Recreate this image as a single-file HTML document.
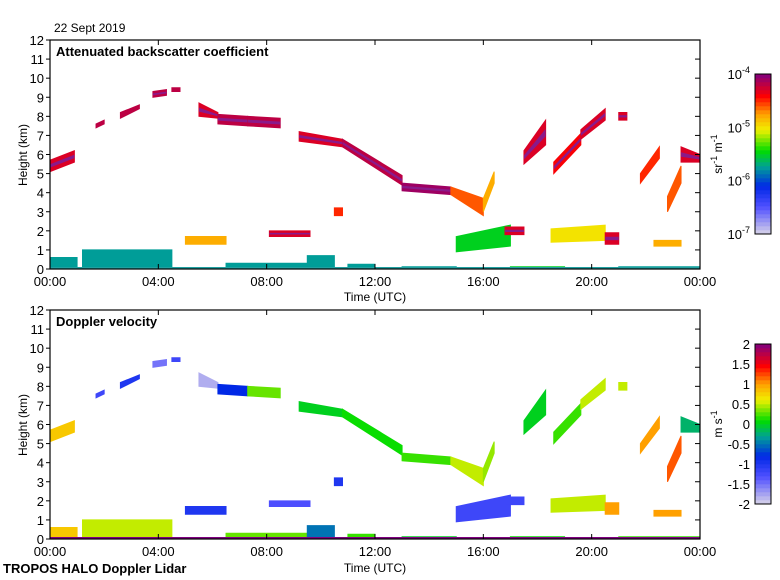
<!DOCTYPE html>
<html><head><meta charset="utf-8">
<style>
body{margin:0;background:#fff;}
svg{display:block;font-family:"Liberation Sans",sans-serif;}
</style></head>
<body>
<svg id="c" width="780" height="580"></svg>
<script>
// data: cloud segments (hours, km)
const segT0=[0.0,1.7,2.6,3.8,4.5,5.5,6.2,7.3,9.2,10.8,13.0,14.8,16.0,17.5,18.6,19.6,21.0,21.8,22.8,23.3,5.0,8.1,10.5,15.0,16.8,18.5,20.5,22.3,0.0,1.2,6.5,9.5,11.0,13.0,17.0,21.0];
const segT1=[0.9,2.0,3.3,4.3,4.8,6.2,7.3,8.5,10.8,13.0,14.8,16.0,16.4,18.3,19.6,20.5,21.3,22.5,23.3,24.0,6.5,9.6,10.8,17.0,17.5,20.5,21.0,23.3,1.0,4.5,9.5,10.5,12.0,15.0,19.0,24.0];
const segBotA=[5.1,7.4,7.9,9.0,9.3,8.0,7.6,7.5,6.7,6.4,4.1,3.9,3.0,5.5,5.0,6.8,7.8,4.5,3.0,5.6,1.3,1.7,2.8,0.9,1.8,1.4,1.3,1.2,0,0,0,0,0,0,0,0];
const segTopA=[5.7,7.6,8.2,9.3,9.5,8.7,8.1,8.0,7.2,6.8,4.5,4.3,3.7,6.2,5.6,7.3,8.2,5.0,3.8,6.4,1.7,2.0,3.2,1.7,2.2,2.1,1.9,1.5,0.6,1.0,0.3,0.7,0.25,0.12,0.12,0.12];
const segBotB=[5.6,7.6,8.4,9.1,9.3,7.9,7.5,7.4,6.4,4.4,3.9,2.8,4.5,6.5,6.5,7.8,7.8,5.8,4.5,5.6,1.3,1.7,2.8,1.2,1.8,1.5,1.3,1.2,0,0,0,0,0,0,0,0];
const segTopB=[6.2,7.8,8.6,9.4,9.5,8.2,8.0,7.9,6.8,4.9,4.3,3.7,5.1,7.8,7.1,8.4,8.2,6.4,5.4,6.0,1.7,2.0,3.2,2.3,2.2,2.3,1.9,1.5,0.6,1.0,0.3,0.7,0.25,0.12,0.12,0.12];
const segBs=[-4.3,-4.2,-4.2,-4.2,-4.2,-4.3,-4.2,-4.2,-4.3,-4.2,-4.1,-4.6,-4.8,-4.3,-4.4,-4.3,-4.3,-4.5,-4.6,-4.3,-4.8,-4.3,-4.5,-5.5,-4.3,-5.0,-4.3,-4.8,-5.75,-5.75,-5.75,-5.75,-5.75,-5.75,-5.5,-5.75];
const segVel=[0.8,-1.2,-1.0,-1.5,-1.2,-1.8,-0.8,0.3,0.0,0.1,0.2,0.5,0.4,0.0,0.2,0.5,0.5,1.0,1.2,-0.2,-1.0,-1.3,-1.0,-1.2,-1.2,0.5,1.0,1.0,0.8,0.5,0.3,-0.5,0.2,0.0,0.1,0.2];
const xTickLabels=["00:00","04:00","08:00","12:00","16:00","20:00","00:00"];
const yTickLabels=["0","1","2","3","4","5","6","7","8","9","10","11","12"];
const bsTicks=[-7,-6,-5,-4];
const velTicks=["2","1.5","1","0.5","0","-0.5","-1","-1.5","-2"];

const NS="http://www.w3.org/2000/svg";
const svg=document.getElementById('c');
function el(t,a,p){const e=document.createElementNS(NS,t);for(const k in a)e.setAttribute(k,a[k]);(p||svg).appendChild(e);return e;}
const X0=50,X1=700;
function xs(h){return X0+(X1-X0)*h/24;}
function ysF(top){return km=>top+229-229*km/12;}
function lerp(a,b,t){return a+(b-a)*t;}
function cmap(t){
  const st=[[0,[216,212,232]],[0.17,[80,80,255]],[0.3,[0,40,230]],[0.42,[0,160,150]],[0.52,[0,220,0]],[0.65,[240,240,0]],[0.75,[255,160,0]],[0.86,[255,0,0]],[1,[128,0,128]]];
  t=Math.max(0,Math.min(1,t));
  for(let i=1;i<st.length;i++){if(t<=st[i][0]){const a=st[i-1],b=st[i];const u=(t-a[0])/(b[0]-a[0]);return `rgb(${Math.round(lerp(a[1][0],b[1][0],u))},${Math.round(lerp(a[1][1],b[1][1],u))},${Math.round(lerp(a[1][2],b[1][2],u))})`;}}
  return 'rgb(128,0,128)';
}
function drawPanel(top,title,valFn,ttl,panelName){
  const ys=ysF(top);
  const g=el('g',{});
  
  
  for(let i=0;i<segT0.length;i++){
    const p=[[xs(segT0[i]),ys(segTopA[i])],[xs(segT1[i]),ys(segTopB[i])],[xs(segT1[i]),ys(segBotB[i])],[xs(segT0[i]),ys(segBotA[i])]];
    const r=el('polygon',{points:p.map(q=>q.join(',')).join(' '),fill:cmap(valFn(i)),stroke:cmap(valFn(i)),'stroke-width':1},g);
    
    
    if(panelName==='backscatter-panel'&&segBs[i]>-4.5&&segTopA[i]-segBotA[i]>0.3){
      const mid=p.map((q,k)=>[q[0],k<2?q[1]+(p[3-k][1]-q[1])*0.35:q[1]-(q[1]-p[3-k][1])*0.35]);
      el('polygon',{points:mid.map(q=>q.join(',')).join(' '),fill:'#8a1a8a'},g);
    }
  }
  const base=el('rect',{x:X0,y:top+227,width:X1-X0,height:2,fill:panelName==='backscatter-panel'?'#20a0a0':'#800080'},g);
  
  
  const fr=el('rect',{x:X0,y:top,width:X1-X0,height:229,fill:'none',stroke:'#000','stroke-width':1.2});
  
  
  yTickLabels.forEach((l,k)=>{
    const y=ys(k);
    el('line',{x1:X0-4,y1:y,x2:X0,y2:y,stroke:'#000'});
    el('line',{x1:X1-5,y1:y,x2:X1,y2:y,stroke:'#000'});
    const t=el('text',{x:X0-6,y:y+5,'text-anchor':'end','font-size':13});t.textContent=l;
    
    
  });
  xTickLabels.forEach((l,k)=>{
    const x=xs(k*4);
    el('line',{x1:x,y1:top,x2:x,y2:top+5,stroke:'#000'});
    el('line',{x1:x,y1:top+229,x2:x,y2:top+224,stroke:'#000'});
    const t=el('text',{x:x,y:top+246,'text-anchor':'middle','font-size':13});t.textContent=l;
    
    
  });
  const tt=el('text',{x:56,y:top+16,'font-size':13,'font-weight':'bold'});tt.textContent=title;
  
  
  const yl=el('text',{x:0,y:0,'font-size':12,'text-anchor':'middle',transform:`translate(27,${top+115}) rotate(-90)`});yl.textContent='Height (km)';
  
  
  const cb=el('g',{});
  
  
  const cy=top+34,ch=160;
  for(let k=0;k<40;k++){el('rect',{x:755,y:cy+ch-(k+1)*4,width:16,height:4.3,fill:cmap((k+0.5)/40)},cb);}
  el('rect',{x:755,y:cy,width:16,height:ch,fill:'none',stroke:'#000'},cb);
  const ut=el('text',{x:0,y:0,'font-size':12,'text-anchor':'middle',transform:`translate(722,${cy+80}) rotate(-90)`},cb);
  ut.innerHTML=ttl;
  
  
  return cy;
}
let cy=drawPanel(40,'Attenuated backscatter coefficient',i=>(segBs[i]+7)/3,'sr<tspan dy="-5" font-size="9">-1</tspan><tspan dy="5"> m</tspan><tspan dy="-5" font-size="9">-1</tspan>','backscatter-panel');
bsTicks.forEach(v=>{
  const y=cy+160-160*(v+7)/3;
  const t=el('text',{x:750,y:y+5,'text-anchor':'end','font-size':13});
  t.innerHTML=`10<tspan dy="-6" font-size="9">${v}</tspan>`;
  
  
});
cy=drawPanel(310,'Doppler velocity',i=>(segVel[i]+2)/4,'m s<tspan dy="-5" font-size="9">-1</tspan>','velocity-panel');
velTicks.forEach((l,k)=>{
  const y=cy+20*k;
  const t=el('text',{x:750,y:y+5,'text-anchor':'end','font-size':13});t.textContent=l;
  
  
});
[[375,301],[375,572]].forEach(p=>{const t=el('text',{x:p[0],y:p[1],'text-anchor':'middle','font-size':12});t.textContent='Time (UTC)';
  
  });
let t=el('text',{x:54,y:32,'font-size':12});t.textContent='22 Sept 2019';


t=el('text',{x:3,y:573,'font-size':13,'font-weight':'bold'});t.textContent='TROPOS HALO Doppler Lidar';


</script>
</body></html>
